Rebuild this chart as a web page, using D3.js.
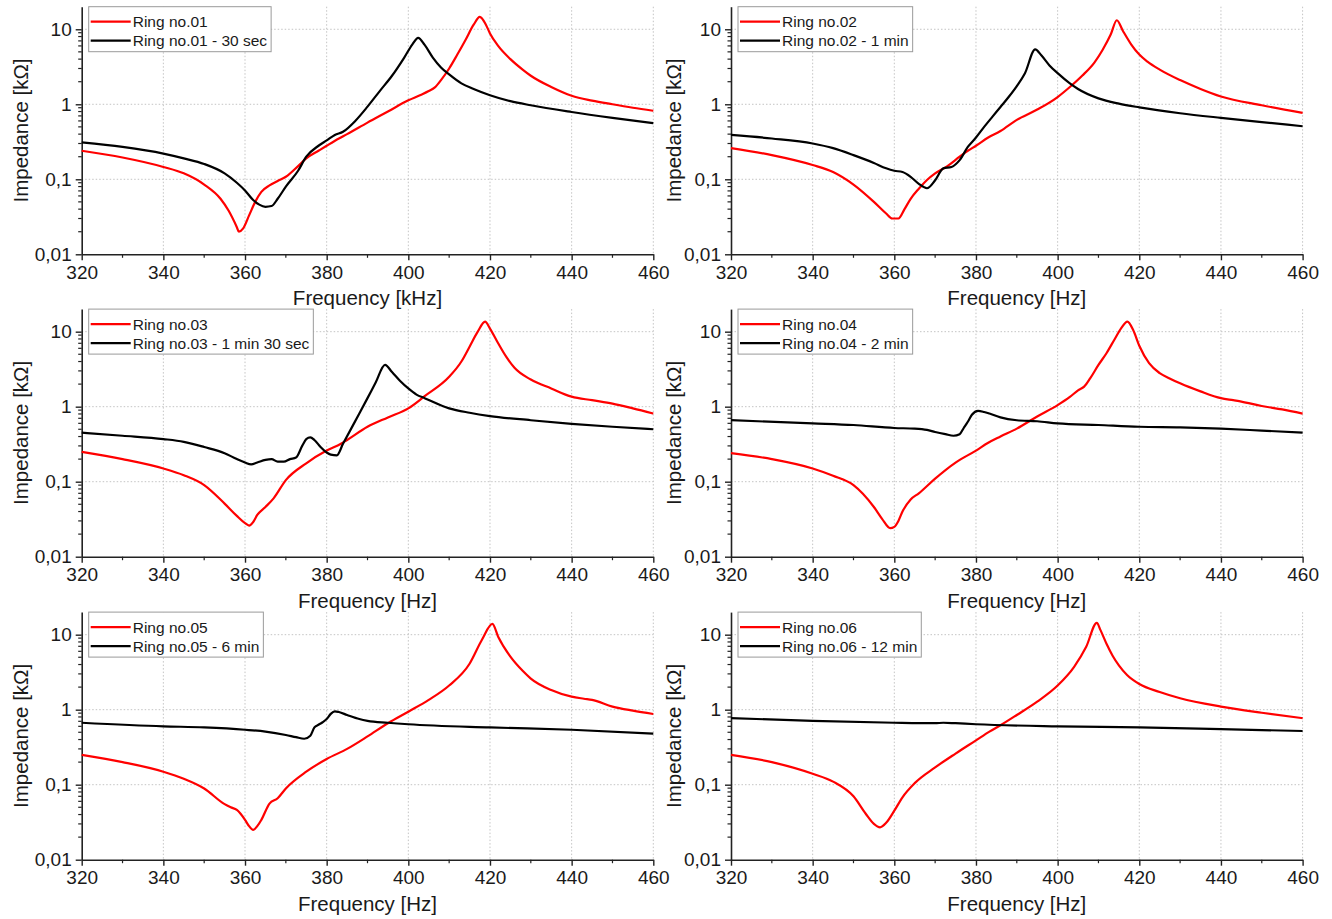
<!DOCTYPE html>
<html>
<head>
<meta charset="utf-8">
<script src="https://cdn.jsdelivr.net/npm/d3@7"></script>
<style>
body { margin: 0; background: #fff; }
svg text { font-family: Arial, "Liberation Sans", sans-serif; fill: #1a1a1a; }
</style>
</head>
<body>
<div id="app"></div>
<script>
// data (frequency, impedance in kOhm)
var ring01Freq = [320,330,340,345,350,354,356,358,358.5,359.5,361,362.5,364,366,368,370,373,375,378,380,383,385,390,395,400,403,405,406.5,408,410,412,414,416,417.5,419,420,422,425,428,430,435,440,445,450,455,460];
var ring01Z    = [0.24,0.195,0.146,0.12,0.085,0.055,0.038,0.023,0.02,0.022,0.033,0.05,0.068,0.083,0.095,0.108,0.15,0.19,0.24,0.28,0.35,0.4,0.57,0.8,1.13,1.33,1.5,1.68,2.1,3.0,4.6,7.2,11.5,14.6,11.5,8.8,6.0,4.0,2.9,2.4,1.7,1.3,1.12,1.0,0.9,0.82];
var ring01bFreq = [320,330,340,345,350,355,358,360,362,363.5,365,366.5,368,370,373,375,378,380,382,384,387,390,393,396,399,401,402.4,404,406,408,410,413,416,420,425,430,440,450,460];
var ring01bZ    = [0.31,0.27,0.22,0.19,0.16,0.12,0.09,0.071,0.053,0.046,0.043,0.044,0.055,0.08,0.13,0.2,0.28,0.33,0.39,0.43,0.6,0.93,1.5,2.4,4.2,6.3,7.7,6.2,4.2,3.1,2.5,1.9,1.6,1.32,1.1,0.97,0.79,0.66,0.56];

var ring02Freq = [320,330,340,345,350,355,358,359.5,361,362.5,364,366,368,370,373,376,378,380,383,386,390,395,400,403,406,409,411,413,414.5,416,418,420,422,425,430,435,440,450,460];
var ring02Z    = [0.26,0.21,0.155,0.125,0.085,0.05,0.035,0.03,0.03,0.04,0.055,0.075,0.098,0.12,0.15,0.2,0.24,0.28,0.36,0.44,0.62,0.85,1.25,1.7,2.4,3.6,5.3,8.5,13.2,9.5,6.3,4.6,3.7,2.9,2.1,1.6,1.27,0.97,0.77];
var ring02bFreq = [320,330,340,345,350,355,358,360,362,364,366,368,370,372,374,376,378,380,382,384,386,388,390,392,394.5,396,398,400,403,405,410,415,420,430,440,450,460];
var ring02bZ    = [0.39,0.35,0.3,0.26,0.21,0.165,0.14,0.13,0.125,0.108,0.087,0.076,0.097,0.14,0.146,0.18,0.27,0.36,0.5,0.68,0.92,1.25,1.75,2.6,5.4,4.5,3.3,2.6,1.9,1.6,1.2,1.02,0.91,0.76,0.66,0.58,0.51];

var ring03Freq = [320,330,340,345,350,355,358,360,361,362,363,365,367,370,375,380,383.5,385,390,395,400,404,410,413,415,417,418.8,420,422,424,426,430,435,440,445,450,455,460];
var ring03Z    = [0.25,0.2,0.15,0.122,0.09,0.051,0.035,0.028,0.026,0.029,0.036,0.046,0.06,0.105,0.176,0.26,0.32,0.36,0.54,0.72,0.95,1.38,2.5,4.0,6.3,10,13.6,11,7.0,4.6,3.3,2.3,1.75,1.36,1.22,1.1,0.95,0.81];
var ring03bFreq = [320,330,340,345,350,355,358,360,361.5,363,365,366.5,368,369.5,371,372.5,374,375,376,377,378.5,380,381,382.5,384,386,388,390,392,394.3,396,398,400,402,404,410,415,420,430,440,450,460];
var ring03bZ    = [0.45,0.41,0.37,0.34,0.29,0.24,0.2,0.18,0.17,0.18,0.195,0.2,0.185,0.185,0.2,0.21,0.3,0.37,0.39,0.36,0.29,0.245,0.23,0.225,0.32,0.51,0.81,1.3,2.1,3.6,2.9,2.2,1.75,1.45,1.3,0.95,0.83,0.75,0.66,0.59,0.54,0.5];

var ring04Freq = [320,330,340,345,350,355,357,359,360,361,362,364,366,370,375,380,383,386,390,395,400,403,405,406.5,408,410,412,414,415.5,417.1,418.5,420,422.4,425,427.3,430,435,440,443,445,450,455,460];
var ring04Z    = [0.24,0.2,0.15,0.12,0.09,0.046,0.032,0.024,0.025,0.03,0.04,0.058,0.07,0.11,0.18,0.26,0.33,0.4,0.51,0.74,1.05,1.35,1.65,1.85,2.4,3.6,5.2,8.0,11,13.6,10.5,6.5,3.8,2.8,2.4,2.05,1.6,1.3,1.22,1.17,1.02,0.92,0.81];
var ring04bFreq = [320,340,350,360,365,368,370,372.5,374.5,376,377,378,379,380.5,382,383.3,386,390,395,400,410,420,430,440,450,460];
var ring04bZ    = [0.66,0.6,0.57,0.52,0.51,0.49,0.46,0.43,0.41,0.43,0.52,0.63,0.78,0.88,0.85,0.81,0.72,0.66,0.64,0.6,0.57,0.54,0.53,0.51,0.48,0.45];

var ring05Freq = [320,330,340,345,350,355,356.5,358,360,361,362,363,364,366,368,370,375,380,385,390,395,400,405,410,415,418,420.6,422,425,428,430,435,440,443,445,450,455,460];
var ring05Z    = [0.25,0.2,0.149,0.12,0.089,0.055,0.05,0.046,0.034,0.028,0.025,0.028,0.034,0.056,0.066,0.089,0.149,0.22,0.3,0.44,0.66,0.94,1.35,2.1,4.1,8.5,13.9,9.4,5.1,3.3,2.6,1.83,1.49,1.4,1.35,1.1,0.97,0.875];
var ring05bFreq = [320,340,350,360,365,370,372.5,374.5,376,377,378,379,380,381,382,383,385,388,390,395,400,420,440,460];
var ring05bZ    = [0.67,0.6,0.58,0.54,0.51,0.46,0.43,0.41,0.45,0.58,0.63,0.68,0.75,0.88,0.95,0.93,0.85,0.75,0.71,0.67,0.64,0.58,0.54,0.48];

var ring06Freq = [320,330,340,345,350,353,355,356.5,358,360,362,365,370,375,380,383.3,386,390,395,400,404,407,409.6,410.5,412,413.5,415,417,420,425,430,440,450,460];
var ring06Z    = [0.25,0.2,0.14,0.11,0.07,0.041,0.03,0.027,0.031,0.045,0.068,0.105,0.17,0.26,0.39,0.51,0.62,0.85,1.28,2.1,3.7,6.9,14.4,11.5,7.5,5.2,3.9,2.9,2.2,1.72,1.42,1.1,0.91,0.77];
var ring06bFreq = [320,340,360,370,372,375,380,400,420,440,460];
var ring06bZ    = [0.77,0.71,0.67,0.66,0.67,0.66,0.64,0.6,0.58,0.55,0.52];

var legendRef   = ["Ring no.01", "Ring no.02", "Ring no.03", "Ring no.04", "Ring no.05", "Ring no.06"];
var legendAged  = ["Ring no.01 - 30 sec", "Ring no.02 - 1 min", "Ring no.03 - 1 min 30 sec", "Ring no.04 - 2 min", "Ring no.05 - 6 min", "Ring no.06 - 12 min"];
var xTitles     = ["Frequency [kHz]", "Frequency [Hz]", "Frequency [Hz]", "Frequency [Hz]", "Frequency [Hz]", "Frequency [Hz]"];
var xTicks      = [320, 340, 360, 380, 400, 420, 440, 460];
var xMinorTicks = [330, 350, 370, 390, 410, 430, 450];
var yTicks      = [0.01, 0.1, 1, 10];
var yTickLabels = ["0,01", "0,1", "1", "10"];

var redSeries   = [[ring01Freq, ring01Z], [ring02Freq, ring02Z], [ring03Freq, ring03Z], [ring04Freq, ring04Z], [ring05Freq, ring05Z], [ring06Freq, ring06Z]];
var blackSeries = [[ring01bFreq, ring01bZ], [ring02bFreq, ring02bZ], [ring03bFreq, ring03bZ], [ring04bFreq, ring04bZ], [ring05bFreq, ring05bZ], [ring06bFreq, ring06bZ]];

// layout
var colLeft = [81.7, 731];
var rowTop = [6.7, 309.1, 612.1];
var plotW = 571.6, plotH = 247.6;

var svg = d3.select("#app")
	.append("svg")
		.attr("width", 1332)
		.attr("height", 919);

svg.append("rect").attr("width", 1332).attr("height", 919).attr("fill", "#fff");

for (var i = 0; i < 6; i++) {
	var g = svg.append("g")
		.attr("transform", "translate(" + colLeft[i % 2] + "," + rowTop[Math.floor(i / 2)] + ")");
	drawPanel(g, i);
}

function toPoints(s) {
	return s[0].map(function(f, k) { return {f: f, z: s[1][k]}; });
}

function drawPanel(g, i) {
	var x = d3.scaleLinear().domain([320, 460]).range([0, plotW]);
	var y = d3.scaleLog().domain([0.01, 20]).range([plotH, 0]);

	// grid
	g.append("g").selectAll("line")
		.data(xTicks.slice(1))
		.join("line")
			.attr("x1", d => x(d)).attr("x2", d => x(d))
			.attr("y1", 0).attr("y2", plotH)
			.attr("stroke", "#c4c4c4").attr("stroke-width", 1)
			.attr("stroke-dasharray", "1.5,2");
	g.append("g").selectAll("line")
		.data(yTicks.slice(1))
		.join("line")
			.attr("x1", 0).attr("x2", plotW)
			.attr("y1", d => y(d)).attr("y2", d => y(d))
			.attr("stroke", "#c4c4c4").attr("stroke-width", 1)
			.attr("stroke-dasharray", "1.5,2");

	// x axis
	var xAxis = g.append("g")
		.attr("transform", "translate(0," + plotH + ")")
		.call(d3.axisBottom(x).tickValues(xTicks).tickSize(6).tickPadding(5).tickSizeOuter(0));
	xAxis.append("g").selectAll("line")
		.data(xMinorTicks)
		.join("line")
			.attr("x1", d => x(d)).attr("x2", d => x(d))
			.attr("y1", 0).attr("y2", 3.5)
			.attr("stroke", "#222").attr("stroke-width", 1.2);

	// y axis
	var minors = [];
	[0.01, 0.1, 1, 10].forEach(function(dec) {
		for (var k = 2; k <= 9; k++) { if (k * dec < 20) minors.push(k * dec); }
	});
	var yAxis = g.append("g")
		.call(d3.axisLeft(y).tickValues(yTicks).tickFormat((d, k) => yTickLabels[k]).tickSize(6).tickPadding(4).tickSizeOuter(0));
	yAxis.append("g").selectAll("line")
		.data(minors)
		.join("line")
			.attr("x1", 0).attr("x2", -3.5)
			.attr("y1", d => y(d)).attr("y2", d => y(d))
			.attr("stroke", "#222").attr("stroke-width", 1.2);

	g.selectAll(".domain").attr("stroke", "#222").attr("stroke-width", 1.6);
	g.selectAll(".tick line").attr("stroke", "#222").attr("stroke-width", 1.4);
	g.selectAll(".tick text").style("font-size", "19px").attr("fill", "#1a1a1a");

	// titles
	g.append("text")
		.attr("x", plotW / 2)
		.attr("y", plotH + 51)
		.attr("text-anchor", "middle")
		.style("font-size", "20.5px")
		.text(xTitles[i]);
	g.append("text")
		.attr("transform", "translate(" + (i % 2 === 0 ? -54 : -50) + "," + (plotH / 2) + ")rotate(-90)")
		.attr("text-anchor", "middle")
		.style("font-size", "20.5px")
		.text("Impedance [k\u03A9]");

	// curves
	var line = d3.line()
		.x(d => x(d.f))
		.y(d => y(d.z))
		.curve(d3.curveMonotoneX);

	g.append("path")
		.datum(toPoints(redSeries[i]))
		.attr("d", line)
		.attr("fill", "none")
		.attr("stroke", "#ff0000")
		.attr("stroke-width", 2.2)
		.attr("stroke-linejoin", "round");
	g.append("path")
		.datum(toPoints(blackSeries[i]))
		.attr("d", line)
		.attr("fill", "none")
		.attr("stroke", "#000")
		.attr("stroke-width", 2.2)
		.attr("stroke-linejoin", "round");

	// legend
	var lg = g.append("g").attr("transform", "translate(7,0)");
	var box = lg.append("rect")
		.attr("fill", "#fff")
		.attr("stroke", "#9a9a9a")
		.attr("stroke-width", 1);
	var names = [legendRef[i], legendAged[i]];
	var colors = ["#ff0000", "#000"];
	var maxW = 0;
	names.forEach(function(n, k) {
		var cy = 15 + k * 19;
		lg.append("line")
			.attr("x1", 2).attr("x2", 42)
			.attr("y1", cy).attr("y2", cy)
			.attr("stroke", colors[k]).attr("stroke-width", 2.2);
		var t = lg.append("text")
			.attr("x", 44)
			.attr("y", cy + 5.5)
			.style("font-size", "15.5px")
			.text(n);
		maxW = Math.max(maxW, t.node().getComputedTextLength());
	});
	box.attr("x", 0).attr("y", 0).attr("width", 44 + maxW + 4).attr("height", 45);
}
</script>
</body>
</html>
